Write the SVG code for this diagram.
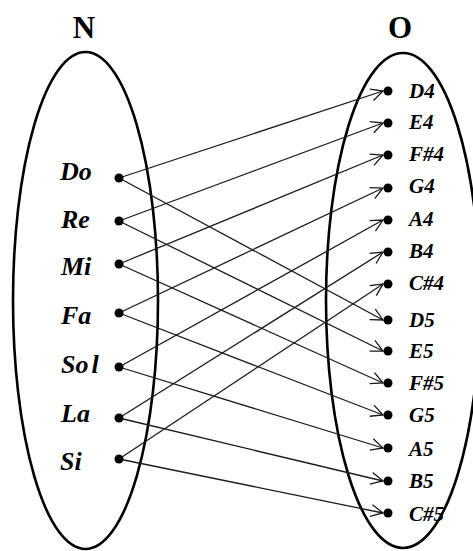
<svg xmlns="http://www.w3.org/2000/svg" width="473" height="551" viewBox="0 0 473 551">
<style>
.set{fill:none;stroke:#000;stroke-width:2.6}
.title{font-family:"Liberation Serif",serif;font-weight:bold;font-size:31px;text-anchor:middle;fill:#000}
.ll{font-family:"Liberation Serif",serif;font-weight:bold;font-style:italic;font-size:26px;fill:#000}
.rl{font-family:"Liberation Serif",serif;font-weight:bold;font-style:italic;font-size:21px;fill:#000}
.dot{fill:#000}
.edge{fill:none;stroke:#1a1a1a;stroke-width:1.3}
</style>
<defs>
<marker id="ah" markerUnits="userSpaceOnUse" markerWidth="16" markerHeight="16" refX="13" refY="8" orient="auto" viewBox="0 0 16 16">
<path d="M1,2 L13,8 L1,14" fill="none" stroke="#1a1a1a" stroke-width="1.3"/>
</marker>
</defs>
<g id="set-N">
<ellipse class="set" cx="85.5" cy="300.5" rx="72.5" ry="248.5"/>
<text class="title" x="84" y="38">N</text>
</g>
<g id="set-O">
<ellipse class="set" cx="403" cy="300.5" rx="77" ry="247.5"/>
<text class="title" x="400" y="38">O</text>
</g>
<g id="connectors">
<line class="edge" x1="119" y1="178" x2="383" y2="91" marker-end="url(#ah)"/>
<line class="edge" x1="119" y1="178" x2="383" y2="320" marker-end="url(#ah)"/>
<line class="edge" x1="119" y1="221" x2="383" y2="123" marker-end="url(#ah)"/>
<line class="edge" x1="119" y1="221" x2="383" y2="351" marker-end="url(#ah)"/>
<line class="edge" x1="119" y1="264" x2="383" y2="155" marker-end="url(#ah)"/>
<line class="edge" x1="119" y1="264" x2="383" y2="383" marker-end="url(#ah)"/>
<line class="edge" x1="119" y1="313" x2="383" y2="188" marker-end="url(#ah)"/>
<line class="edge" x1="119" y1="313" x2="383" y2="415" marker-end="url(#ah)"/>
<line class="edge" x1="119" y1="367" x2="383" y2="220" marker-end="url(#ah)"/>
<line class="edge" x1="119" y1="367" x2="383" y2="448" marker-end="url(#ah)"/>
<line class="edge" x1="119" y1="418" x2="383" y2="252" marker-end="url(#ah)"/>
<line class="edge" x1="119" y1="418" x2="383" y2="481" marker-end="url(#ah)"/>
<line class="edge" x1="119" y1="459" x2="383" y2="284" marker-end="url(#ah)"/>
<line class="edge" x1="119" y1="459" x2="383" y2="513" marker-end="url(#ah)"/>
</g>
<g id="n-Do"><text class="ll" x="60" y="180">Do</text><circle class="dot" cx="119" cy="178" r="4.5"/></g>
<g id="n-Re"><text class="ll" x="61" y="228">Re</text><circle class="dot" cx="119" cy="221" r="4.5"/></g>
<g id="n-Mi"><text class="ll" x="61" y="275">Mi</text><circle class="dot" cx="119" cy="264" r="4.5"/></g>
<g id="n-Fa"><text class="ll" x="61" y="324">Fa</text><circle class="dot" cx="119" cy="313" r="4.5"/></g>
<g id="n-Sol"><text class="ll" x="61" y="373">So<tspan dx="3">l</tspan></text><circle class="dot" cx="119" cy="367" r="4.5"/></g>
<g id="n-La"><text class="ll" x="61" y="422">La</text><circle class="dot" cx="119" cy="418" r="4.5"/></g>
<g id="n-Si"><text class="ll" x="60" y="470">Si</text><circle class="dot" cx="119" cy="459" r="4.5"/></g>
<g id="n-D4"><circle class="dot" cx="388" cy="91" r="4.5"/><text class="rl" x="409" y="98">D4</text></g>
<g id="n-E4"><circle class="dot" cx="388" cy="123" r="4.5"/><text class="rl" x="409" y="129">E4</text></g>
<g id="n-Fs4"><circle class="dot" cx="388" cy="155" r="4.5"/><text class="rl" x="409" y="161">F#4</text></g>
<g id="n-G4"><circle class="dot" cx="388" cy="188" r="4.5"/><text class="rl" x="409" y="193">G4</text></g>
<g id="n-A4"><circle class="dot" cx="388" cy="220" r="4.5"/><text class="rl" x="409" y="226">A4</text></g>
<g id="n-B4"><circle class="dot" cx="388" cy="252" r="4.5"/><text class="rl" x="409" y="258">B4</text></g>
<g id="n-Cs4"><circle class="dot" cx="388" cy="284" r="4.5"/><text class="rl" x="409" y="290">C#4</text></g>
<g id="n-D5"><circle class="dot" cx="388" cy="320" r="4.5"/><text class="rl" x="409" y="327">D5</text></g>
<g id="n-E5"><circle class="dot" cx="388" cy="351" r="4.5"/><text class="rl" x="409" y="358">E5</text></g>
<g id="n-Fs5"><circle class="dot" cx="388" cy="383" r="4.5"/><text class="rl" x="409" y="390">F#5</text></g>
<g id="n-G5"><circle class="dot" cx="388" cy="415" r="4.5"/><text class="rl" x="409" y="422">G5</text></g>
<g id="n-A5"><circle class="dot" cx="388" cy="448" r="4.5"/><text class="rl" x="409" y="456">A5</text></g>
<g id="n-B5"><circle class="dot" cx="388" cy="481" r="4.5"/><text class="rl" x="409" y="488">B5</text></g>
<g id="n-Cs5"><circle class="dot" cx="388" cy="513" r="4.5"/><text class="rl" x="409" y="521">C#5</text></g>
</svg>
